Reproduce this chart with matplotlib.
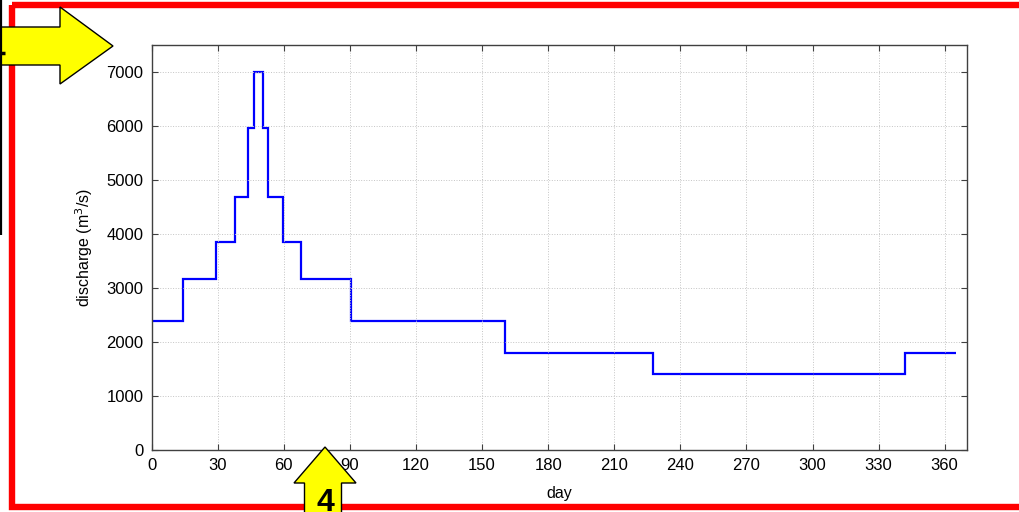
import matplotlib
matplotlib.use("Agg")
import matplotlib.pyplot as plt
from matplotlib.patches import Polygon, Rectangle

# step discharge hydrograph (day edges, discharge per step)
day_edges = [0, 14, 29, 38, 43.5, 46.5, 50.5, 53, 59.5, 68, 90.5, 160.5, 227.5, 342, 365]
discharge = [2380, 3170, 3860, 4680, 5960, 7000, 5960, 4680, 3860, 3170, 2380, 1800, 1400, 1800]
x_ticks = list(range(0, 361, 30))
y_ticks = list(range(0, 7001, 1000))

plt.rcParams['font.family'] = ['Liberation Sans', 'DejaVu Sans']

W, H = 1019, 512
fig = plt.figure(figsize=(W / 100, H / 100), dpi=100)
fig.patch.set_facecolor('white')

ax = fig.add_axes([151.7 / W, 62 / H, 815 / W, 405 / H])
ax.stairs(discharge, day_edges, color='#0000ff', lw=1.6, baseline=None)
ax.set_xlim(0, 370)
ax.set_ylim(0, 7500)
ax.set_xticks(x_ticks)
ax.set_yticks(y_ticks)
ax.grid(True, ls=':', color='#c4c4c4', lw=0.7)
ax.tick_params(direction='in', top=True, right=True, length=4, width=0.8,
               color='#404040', labelsize=12, pad=6)
for s in ax.spines.values():
    s.set_color('#404040')
    s.set_linewidth(1)
ax.set_xlabel('day', fontsize=11.5, labelpad=9)
ax.set_ylabel('discharge (m$^3$/s)', fontsize=11.5, labelpad=8)

# slide decorations overlay
ov = fig.add_axes([0, 0, 1, 1], zorder=10)
ov.set_xlim(0, W)
ov.set_ylim(H, 0)
ov.axis('off')
ov.patch.set_alpha(0)

ov.plot([1, 1], [0, 235], color='black', lw=1.6, solid_capstyle='butt')
ov.add_patch(Rectangle((12.5, 4.5), 1040, 502.2, fill=False, ec='#ff0000', lw=4.6))

ov.add_patch(Polygon([(-5, 27), (60, 27), (60, 7), (113, 46), (60, 84), (60, 65), (-5, 65)],
                     closed=True, fc='#ffff00', ec='black', lw=1))
ov.plot([0, 5], [52.5, 52.5], color='black', lw=2.5, solid_capstyle='butt')

ov.add_patch(Polygon([(304.5, 520), (304.5, 483), (294, 483), (325, 447), (356, 483),
                      (341.5, 483), (341.5, 520)],
                     closed=True, fc='#ffff00', ec='black', lw=1))
ov.text(325, 488, '4', ha='center', va='top', fontsize=23, fontweight='bold',
        color='black')

fig.savefig('out.png', dpi=100)
